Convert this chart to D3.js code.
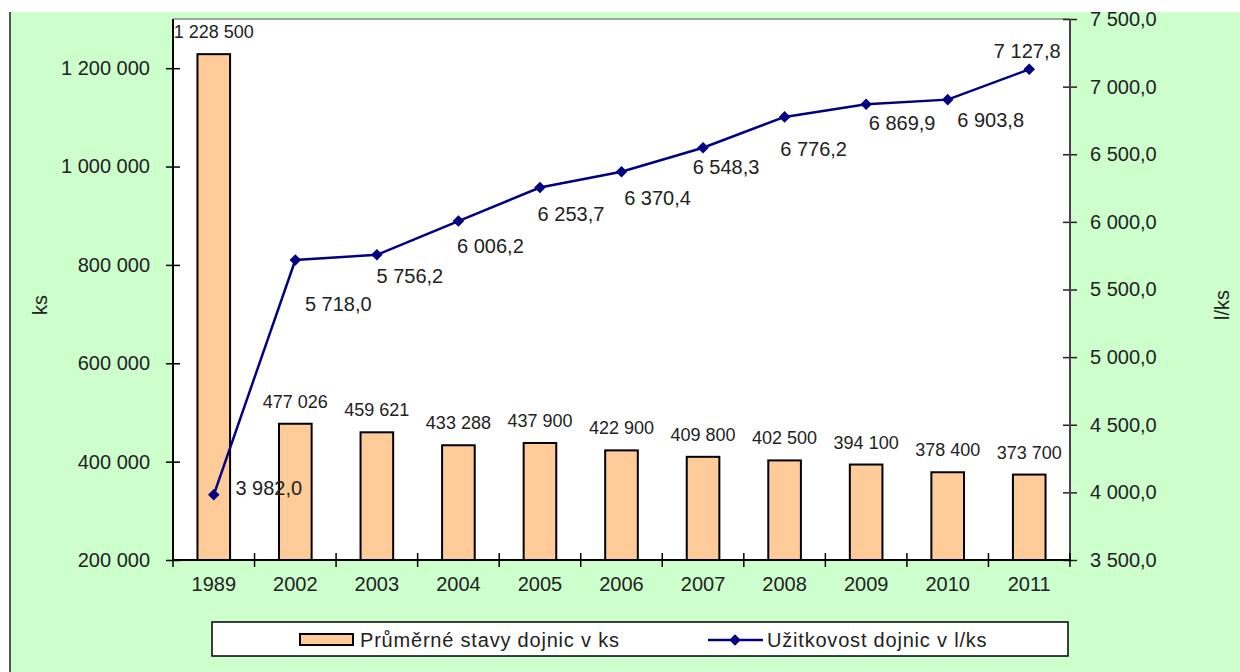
<!DOCTYPE html>
<html>
<head>
<meta charset="utf-8">
<script src="https://cdn.jsdelivr.net/npm/d3@7"></script>
<style>
  body { margin: 0; background: #fff; }
  svg text { font-family: "Liberation Sans", Arial, sans-serif; fill: #222; }
</style>
</head>
<body>
<div id="chart"></div>
<script>
// Data
var years = ["1989", "2002", "2003", "2004", "2005", "2006", "2007", "2008", "2009", "2010", "2011"];
var cows = [1228500, 477026, 459621, 433288, 437900, 422900, 409800, 402500, 394100, 378400, 373700];
var milkYield = [3982.0, 5718.0, 5756.2, 6006.2, 6253.7, 6370.4, 6548.3, 6776.2, 6869.9, 6903.8, 7127.8];
var leftTicks = [200000, 400000, 600000, 800000, 1000000, 1200000];
var rightTicks = [3500, 4000, 4500, 5000, 5500, 6000, 6500, 7000, 7500];

// label nudges for the line values (dx, dy from the point), as placed in the original
var lineLabelNudge = [[55, 0], [43, 51], [33, 28], [32, 32], [31, 33], [36, 33],
                      [23, 26], [29, 39], [36, 26], [43, 27], [-2, -11]];

var cz = d3.formatLocale({decimal: ",", thousands: " ", grouping: [3], currency: ["", ""]});
var fmtInt = cz.format(",.0f");
var fmtDec = cz.format(",.1f");

var svgWidth = 1240, svgHeight = 672;
var margin = { top: 19, right: 170, bottom: 112, left: 173 };
var width = svgWidth - margin.left - margin.right;
var height = svgHeight - margin.top - margin.bottom;

var svg = d3.select("#chart")
  .append("svg")
  .attr("width", svgWidth)
  .attr("height", svgHeight);

// chart area background
svg.append("rect")
  .attr("x", 10).attr("y", 12)
  .attr("width", svgWidth - 10).attr("height", svgHeight - 12)
  .attr("fill", "#ccffcc");
svg.append("line")
  .attr("x1", 10).attr("x2", 10).attr("y1", 12).attr("y2", svgHeight)
  .attr("stroke", "#555").attr("stroke-width", 2);

var chart = svg.append("g")
  .attr("transform", "translate(" + margin.left + "," + margin.top + ")");

// plot area
chart.append("rect")
  .attr("width", width).attr("height", height)
  .attr("fill", "#fff");
chart.append("line")
  .attr("x1", 0).attr("x2", width).attr("y1", 0).attr("y2", 0)
  .attr("stroke", "#888").attr("stroke-width", 1.5);

// Scales
var x = d3.scaleBand()
  .domain(years)
  .range([0, width])
  .paddingInner(0.6)
  .paddingOuter(0.3);

var yLeft = d3.scaleLinear().domain([200000, 1300000]).range([height, 0]);
var yRight = d3.scaleLinear().domain([3500, 7500]).range([height, 0]);

// Bars
chart.selectAll(".bar")
  .data(cows)
  .enter().append("rect")
    .attr("class", "bar")
    .attr("x", function(d, i) { return x(years[i]); })
    .attr("y", function(d) { return yLeft(d); })
    .attr("width", x.bandwidth())
    .attr("height", function(d) { return height - yLeft(d); })
    .attr("fill", "#ffcc99")
    .attr("stroke", "#000")
    .attr("stroke-width", 2);

chart.selectAll(".barLabel")
  .data(cows)
  .enter().append("text")
    .attr("class", "barLabel")
    .attr("x", function(d, i) { return x(years[i]) + x.bandwidth() / 2; })
    .attr("y", function(d) { return yLeft(d) - 16; })
    .attr("text-anchor", "middle")
    .style("font-size", "18px")
    .text(function(d) { return fmtInt(d); });

// Axes
var leftAxis = d3.axisLeft(yLeft).tickValues(leftTicks).tickSize(7).tickPadding(16).tickFormat(fmtInt);
var rightAxis = d3.axisRight(yRight).tickValues(rightTicks).tickSize(7).tickPadding(13).tickFormat(fmtDec);

var gl = chart.append("g").call(leftAxis);
gl.select(".domain").remove();
gl.selectAll(".tick line").attr("x1", 7).attr("stroke", "#000").attr("stroke-width", 1.5);
gl.selectAll(".tick text").style("font-size", "20px").attr("fill", "#222");
chart.append("line")
  .attr("x1", 0).attr("x2", 0).attr("y1", 0).attr("y2", height)
  .attr("stroke", "#000").attr("stroke-width", 2);

var gr = chart.append("g").attr("transform", "translate(" + width + ",0)").call(rightAxis);
gr.select(".domain").remove();
gr.selectAll(".tick line").attr("x1", -7).attr("stroke", "#222").attr("stroke-width", 1.5);
gr.selectAll(".tick text").style("font-size", "20px").attr("fill", "#222");
chart.append("line")
  .attr("x1", width).attr("x2", width).attr("y1", 0).attr("y2", height)
  .attr("stroke", "#444").attr("stroke-width", 2);

// bottom axis: labels centred, ticks at category boundaries
var bottomAxis = d3.axisBottom(x).tickSize(0).tickPadding(17);
var gb = chart.append("g").attr("transform", "translate(0," + height + ")").call(bottomAxis);
gb.select(".domain").remove();
gb.selectAll(".tick text").style("font-size", "20px").attr("fill", "#222");
var bounds = d3.range(years.length + 1).map(function(k) { return k * x.step(); });
chart.selectAll(".xtick")
  .data(bounds)
  .enter().append("line")
    .attr("class", "xtick")
    .attr("x1", function(d) { return d; }).attr("x2", function(d) { return d; })
    .attr("y1", height - 7).attr("y2", height + 7)
    .attr("stroke", "#000").attr("stroke-width", 1.5);
chart.append("line")
  .attr("x1", 0).attr("x2", width).attr("y1", height).attr("y2", height)
  .attr("stroke", "#000").attr("stroke-width", 2);

// Line series
var line = d3.line()
  .x(function(d, i) { return x(years[i]) + x.bandwidth() / 2; })
  .y(function(d) { return yRight(d); });

chart.append("path")
  .datum(milkYield)
  .attr("d", line)
  .attr("fill", "none")
  .attr("stroke", "#000080")
  .attr("stroke-width", 2.5);

var diamond = d3.symbol().type(d3.symbolDiamond2).size(85);
chart.selectAll(".marker")
  .data(milkYield)
  .enter().append("path")
    .attr("class", "marker")
    .attr("d", diamond)
    .attr("transform", function(d, i) {
      return "translate(" + (x(years[i]) + x.bandwidth() / 2) + "," + yRight(d) + ")";
    })
    .attr("fill", "#000080");

chart.selectAll(".lineLabel")
  .data(milkYield)
  .enter().append("text")
    .attr("class", "lineLabel")
    .attr("x", function(d, i) { return x(years[i]) + x.bandwidth() / 2 + lineLabelNudge[i][0]; })
    .attr("y", function(d, i) { return yRight(d) + lineLabelNudge[i][1]; })
    .attr("text-anchor", "middle")
    .style("font-size", "20px")
    .text(function(d) { return fmtDec(d); });

// Axis titles
svg.append("text")
  .attr("transform", "translate(47,305) rotate(-90)")
  .attr("text-anchor", "middle")
  .style("font-size", "20px")
  .text("ks");
svg.append("text")
  .attr("transform", "translate(1229,305) rotate(-90)")
  .attr("text-anchor", "middle")
  .style("font-size", "20px")
  .text("l/ks");

// Legend
var legend = svg.append("g");
legend.append("rect")
  .attr("x", 212).attr("y", 622).attr("width", 856).attr("height", 34)
  .attr("fill", "#fff").attr("stroke", "#000").attr("stroke-width", 1.5);
legend.append("rect")
  .attr("x", 300).attr("y", 634).attr("width", 53).attr("height", 11)
  .attr("fill", "#ffcc99").attr("stroke", "#000").attr("stroke-width", 2);
legend.append("text")
  .attr("x", 360).attr("y", 647)
  .style("font-size", "20px")
  .style("letter-spacing", "0.8px")
  .text("Průměrné stavy dojnic v ks");
legend.append("line")
  .attr("x1", 708).attr("x2", 763).attr("y1", 640).attr("y2", 640)
  .attr("stroke", "#000080").attr("stroke-width", 2.5);
legend.append("path")
  .attr("d", diamond)
  .attr("transform", "translate(735,640)")
  .attr("fill", "#000080");
legend.append("text")
  .attr("x", 767).attr("y", 647)
  .style("font-size", "20px")
  .style("letter-spacing", "0.8px")
  .text("Užitkovost dojnic v l/ks");
</script>
</body>
</html>
